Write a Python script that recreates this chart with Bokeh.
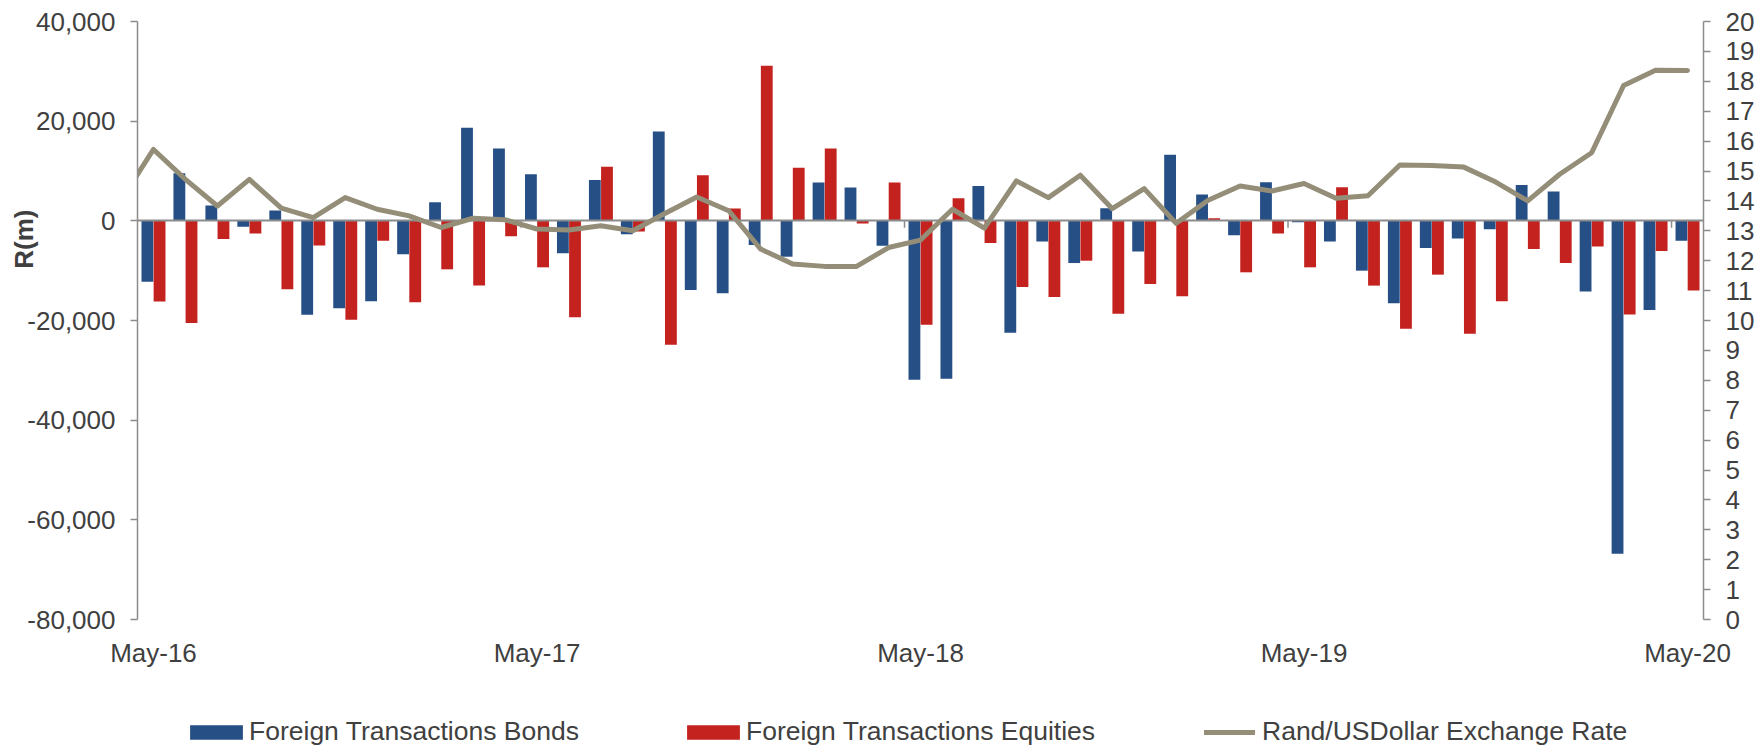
from bokeh.plotting import figure
from bokeh.layouts import column
from bokeh.models import (Range1d, LinearAxis, FixedTicker, NumeralTickFormatter,
                          Legend, LegendItem, Title, ColumnDataSource)
from bokeh.transform import dodge
from bokeh.embed import file_html
from bokeh.resources import INLINE

# ---------------- data ----------------
months = ["May-16", "Jun-16", "Jul-16", "Aug-16", "Sep-16", "Oct-16", "Nov-16", "Dec-16",
          "Jan-17", "Feb-17", "Mar-17", "Apr-17", "May-17", "Jun-17", "Jul-17", "Aug-17",
          "Sep-17", "Oct-17", "Nov-17", "Dec-17", "Jan-18", "Feb-18", "Mar-18", "Apr-18",
          "May-18", "Jun-18", "Jul-18", "Aug-18", "Sep-18", "Oct-18", "Nov-18", "Dec-18",
          "Jan-19", "Feb-19", "Mar-19", "Apr-19", "May-19", "Jun-19", "Jul-19", "Aug-19",
          "Sep-19", "Oct-19", "Nov-19", "Dec-19", "Jan-20", "Feb-20", "Mar-20", "Apr-20",
          "May-20"]

bonds = [-12200, 9530, 3070, -1200, 2070, -18870, -17530, -16130, -6730, 3730,
         18670, 14530, 9330, -6530, 8200, -2670, 17930, -13870, -14530, -4870,
         -7200, 7670, 6670, -5000, -31870, -31670, 7000, -22470, -4130, -8470,
         2530, -6130, 13270, 5270, -2870, 7730, -270, -4130, -10000, -16530,
         -5470, -3530, -1670, 7200, 5870, -14200, -66800, -17870, -4000]

equities = [-16200, -20500, -3670, -2530, -13730, -4930, -19870, -4000, -16330, -9730,
            -13000, -3070, -9330, -19330, 10870, -2130, -24870, 9130, 2470, 31130,
            10670, 14530, -530, 7670, -20870, 4530, -4470, -13270, -15270, -8000,
            -18670, -12670, -15130, 530, -10330, -2530, -9330, 6730, -13000, -21670,
            -10800, -22670, -16130, -5670, -8470, -5130, -18800, -6070, -14000]

# exchange rate, starting one month earlier (Apr-16)
rate_months = ["Apr-16"] + months
rate = [14.06, 15.72, 14.72, 13.83, 14.72, 13.76, 13.44, 14.11, 13.72, 13.50, 13.11,
        13.42, 13.37, 13.06, 13.03, 13.17, 13.00, 13.58, 14.13, 13.67, 12.39,
        11.89, 11.81, 11.81, 12.44, 12.69, 13.72, 13.09, 14.67, 14.11, 14.86,
        13.74, 14.41, 13.25, 14.02, 14.50, 14.33, 14.58, 14.09, 14.17, 15.20,
        15.18, 15.13, 14.63, 14.00, 14.89, 15.61, 17.86, 18.37, 18.36]

tick_labels = ["May-16", "May-17", "May-18", "May-19", "May-20"]

# ---------------- style ----------------
BLUE = "#264F86"
RED = "#C3221E"
KHAKI = "#948D78"
TXT = "#404040"
AX = "#8C8C8C"
FONT = "Liberation Sans"
FS = "26px"
LFS = "26.5px"

idx = list(range(len(months)))
src = ColumnDataSource(dict(x=idx, bonds=bonds, equities=equities, month=months))
rate_x = [months.index(m) if m in months else -1 for m in rate_months]
rate_src = ColumnDataSource(dict(x=rate_x, rate=rate, month=rate_months))

W = 1762
H1 = 670
H2 = 746 - H1
FRAME_LEFT = 137
p = figure(width=W, height=H1, output_backend="svg", toolbar_location=None,
           x_range=Range1d(-0.5, len(months) - 0.5), y_range=Range1d(-80000, 40000),
           min_border_left=FRAME_LEFT, min_border_right=59, min_border_top=21,
           min_border_bottom=H1 - 620)
p.extra_y_ranges = {"rate": Range1d(0, 20)}
p.outline_line_color = None
p.xgrid.visible = False
p.ygrid.visible = False
p.background_fill_color = "white"
p.border_fill_color = "white"

vb1 = p.vbar(x=dodge("x", -0.19, range=p.x_range), top="bonds", width=0.37,
             source=src, fill_color=BLUE, line_color=None)
vb2 = p.vbar(x=dodge("x", 0.19, range=p.x_range), top="equities", width=0.37,
             source=src, fill_color=RED, line_color=None)

# zero (category) axis line with its yearly tick marks
p.hspan(y=[0], line_color=AX, line_width=2)
tick_pos = [months.index(t) - 0.5 for t in tick_labels[1:]]
p.segment(x0=tick_pos, y0=[0] * len(tick_pos), x1=tick_pos, y1=[-1400] * len(tick_pos),
          line_color=AX, line_width=1.5)

ln = p.line("x", "rate", source=rate_src, y_range_name="rate", line_color=KHAKI,
            line_width=5, line_join="round", line_cap="round")


def style_axis(ax):
    ax.axis_line_color = AX
    ax.axis_line_width = 1.5
    ax.major_tick_line_color = AX
    ax.major_tick_line_width = 1.5
    ax.major_tick_out = 7
    ax.major_tick_in = 0
    ax.minor_tick_line_color = None
    ax.major_label_standoff = 15
    ax.major_label_text_font = FONT
    ax.major_label_text_font_size = FS
    ax.major_label_text_color = TXT


ya = p.yaxis[0]
ya.ticker = FixedTicker(ticks=list(range(-80000, 40001, 20000)))
ya.formatter = NumeralTickFormatter(format="0,0")
style_axis(ya)

ra = LinearAxis(y_range_name="rate", ticker=FixedTicker(ticks=list(range(0, 21))))
style_axis(ra)
p.add_layout(ra, "right")

xa = p.xaxis[0]
xa.ticker = FixedTicker(ticks=[months.index(t) for t in tick_labels])
xa.major_label_overrides = {months.index(t): t for t in tick_labels}
xa.axis_line_color = None
xa.major_tick_line_color = None
xa.minor_tick_line_color = None
xa.major_tick_out = 0
xa.major_tick_in = 0
xa.major_label_standoff = 18
xa.major_label_text_font = FONT
xa.major_label_text_font_size = FS
xa.major_label_text_color = TXT

# y title
p.add_layout(Title(text="R(m)", align="right", vertical_align="middle", offset=188,
                   standoff=-30, text_font=FONT, text_font_size=FS,
                   text_font_style="bold", text_color=TXT), "left")

# ---------------- legend strip (frame aligned with the chart above) ----------------
p2 = figure(width=W, height=H2, output_backend="svg", toolbar_location=None,
            x_axis_type=None, y_axis_type=None, min_border=0,
            x_range=Range1d(1e6, 1e6 + 1), y_range=Range1d(1e6, 1e6 + 1))
p2.outline_line_color = None
p2.xgrid.visible = False
p2.ygrid.visible = False
p2.background_fill_color = "white"
p2.border_fill_color = "white"
# same series as above (kept out of this strip's view) so the legend shows their swatches
l1 = p2.vbar(x="x", top="bonds", width=0.37, source=src, fill_color=BLUE, line_color=None)
l2 = p2.vbar(x="x", top="equities", width=0.37, source=src, fill_color=RED, line_color=None)
l3 = p2.line("x", "rate", source=rate_src, line_color=KHAKI, line_width=5, line_cap="round")

common = dict(orientation="horizontal", padding=0, margin=0, border_line_color=None,
              background_fill_alpha=0, label_text_font=FONT, label_text_font_size=LFS,
              label_text_color=TXT)
leg_bars = Legend(items=[LegendItem(label="Foreign Transactions Bonds", renderers=[l1]),
                         LegendItem(label="Foreign Transactions Equities", renderers=[l2])],
                  location=(183 - FRAME_LEFT, -1), glyph_width=66, glyph_height=18,
                  label_standoff=0, spacing=101, **common)
leg_line = Legend(items=[LegendItem(label="Rand/USDollar Exchange Rate", renderers=[l3])],
                  location=(1204 - FRAME_LEFT, -1), glyph_width=51, glyph_height=18,
                  label_standoff=7, spacing=0, **common)
p2.add_layout(leg_bars, "center")
p2.add_layout(leg_line, "center")

layout = column(p, p2, spacing=0)
open("out.html", "w").write(file_html(layout, INLINE))
